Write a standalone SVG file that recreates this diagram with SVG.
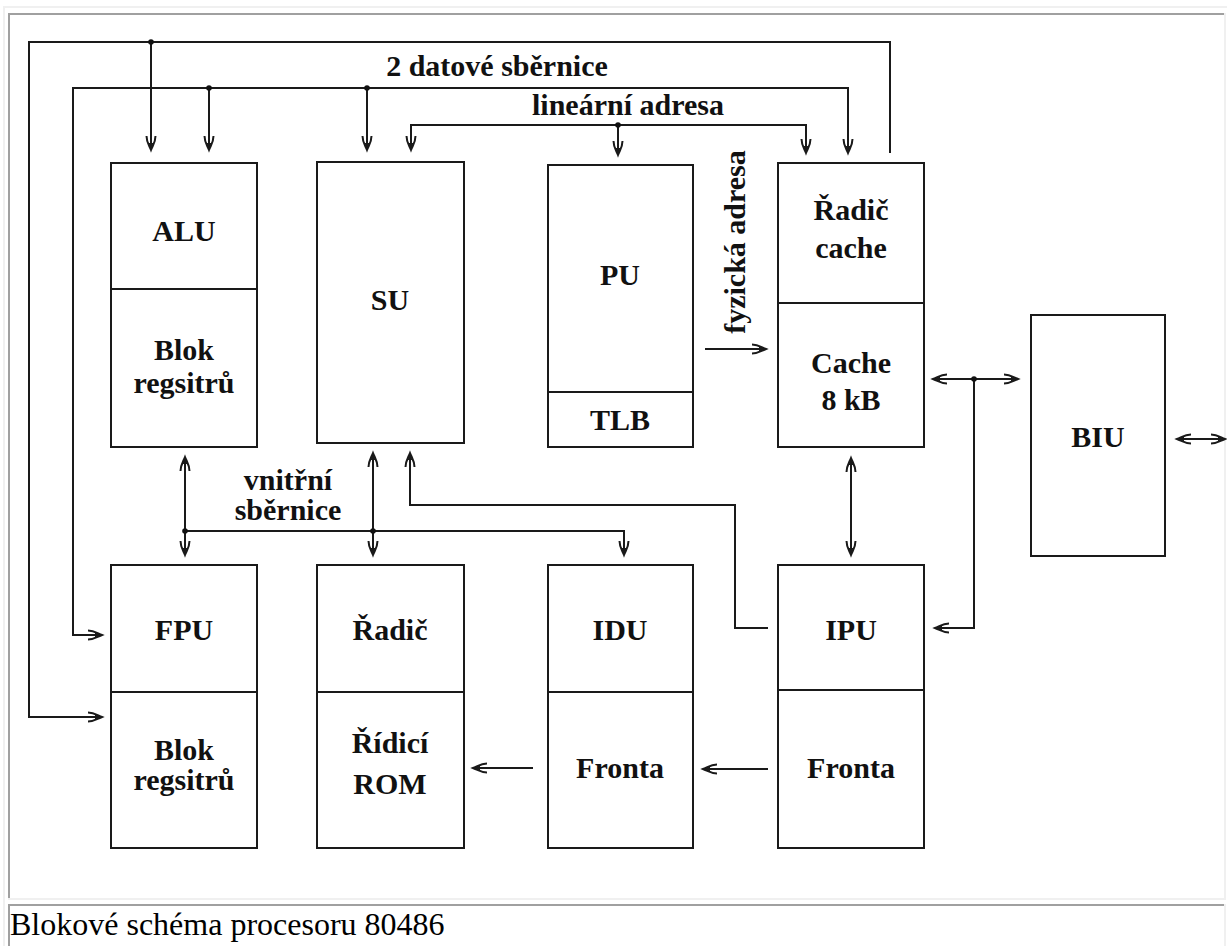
<svg xmlns="http://www.w3.org/2000/svg" width="1227" height="946" viewBox="0 0 1227 946">
<style>
.frame-dark{fill:#a0a0a0}
.frame-light{fill:#f0f0f0}
.box{fill:none;stroke:#1a1a1a;stroke-width:2}
.lbl{font-family:"Liberation Serif","Times New Roman",serif;font-weight:bold;font-size:30px;fill:#111;text-anchor:middle}
.wire{fill:none;stroke:#1a1a1a;stroke-width:2}
.arr{marker-end:url(#ah)}
.arr2{marker-start:url(#ahs);marker-end:url(#ah)}
.dot{fill:#111}
.cap{font-family:"Liberation Serif","Times New Roman",serif;font-size:32px;fill:#000}
</style>
<defs>
<marker id="ah" markerUnits="userSpaceOnUse" markerWidth="20" markerHeight="14" viewBox="-16 -7 18 14" refX="0" refY="0" orient="auto">
<path d="M-14,-4.5 C-8,-4.5 -5,-2 0,0 C-5,2 -8,4.5 -14,4.5" fill="none" stroke="#1a1a1a" stroke-width="2"/>
<path d="M-7,-2.5 L0,0 L-7,2.5 Z" fill="#1a1a1a"/>
</marker>
<marker id="ahs" markerUnits="userSpaceOnUse" markerWidth="20" markerHeight="14" viewBox="-16 -7 18 14" refX="0" refY="0" orient="auto-start-reverse">
<path d="M-14,-4.5 C-8,-4.5 -5,-2 0,0 C-5,2 -8,4.5 -14,4.5" fill="none" stroke="#1a1a1a" stroke-width="2"/>
<path d="M-7,-2.5 L0,0 L-7,2.5 Z" fill="#1a1a1a"/>
</marker>
</defs>
<rect width="1227" height="946" fill="#fff"/>
<g id="frame">
<rect class="frame-light" x="3" y="6" width="1224" height="2"/>
<rect class="frame-light" x="3" y="6" width="2" height="940"/>
<rect class="frame-dark" x="8" y="13" width="1218" height="2"/>
<rect class="frame-dark" x="8" y="13" width="2" height="887"/>
<rect class="frame-light" x="1224" y="13" width="2" height="887"/>
<rect class="frame-light" x="8" y="898" width="1218" height="2"/>
<rect class="frame-dark" x="8" y="904" width="1218" height="2"/>
<rect class="frame-dark" x="8" y="904" width="2" height="42"/>
<rect class="frame-light" x="1224" y="904" width="2" height="42"/>
</g>
<g id="connectors">
<path class="wire" d="M890,153 L890,42 L29,42 L29,717 L102,717" marker-end="url(#ah)"/>
<path class="wire arr" d="M151,42 L151,150"/>
<path class="wire" d="M848,153 L848,88 L73,88 L73,635 L102,635" marker-start="url(#ahs)" marker-end="url(#ah)"/>
<path class="wire arr" d="M209,88 L209,150"/>
<path class="wire arr" d="M367,88 L367,150"/>
<path class="wire arr2" d="M411,150 L411,125 L806,125 L806,153"/>
<path class="wire arr" d="M618,125 L618,155"/>
<path class="wire arr" d="M705,349 L766,349"/>
<path class="wire arr2" d="M933,379 L1018,379"/>
<path class="wire arr" d="M974,379 L974,628 L935,628"/>
<path class="wire arr2" d="M1177,439 L1225,439"/>
<path class="wire arr2" d="M851,458 L851,555"/>
<path class="wire arr2" d="M185,457 L185,555"/>
<path class="wire arr2" d="M373,453 L373,555"/>
<path class="wire arr" d="M185,531 L624,531 L624,555"/>
<path class="wire arr" d="M768,628 L735,628 L735,505 L410,505 L410,453"/>
<path class="wire arr" d="M533,768 L473,768"/>
<path class="wire arr" d="M768,769 L703,769"/>
<circle class="dot" cx="151" cy="42" r="2.8"/>
<circle class="dot" cx="209" cy="88" r="2.8"/>
<circle class="dot" cx="367" cy="88" r="2.8"/>
<circle class="dot" cx="618" cy="125" r="2.8"/>
<circle class="dot" cx="974" cy="379" r="2.8"/>
<circle class="dot" cx="185" cy="531" r="2.8"/>
<circle class="dot" cx="373" cy="531" r="2.8"/>
<text class="lbl" x="497" y="76">2 datové sběrnice</text>
<text class="lbl" x="628" y="115">lineární adresa</text>
<text class="lbl" transform="translate(745,242) rotate(-90)" x="0" y="0">fyzická adresa</text>
<text class="lbl" x="288" y="490">vnitřní</text>
<text class="lbl" x="288" y="520">sběrnice</text>
</g>
<g id="alu">
<rect class="box" x="111" y="163" width="146" height="284"/>
<line class="box" x1="111" y1="289" x2="257" y2="289"/>
<text class="lbl" x="184" y="241">ALU</text>
<text class="lbl" x="184" y="360">Blok</text>
<text class="lbl" x="184" y="393">regsitrů</text>
</g>
<g id="su">
<rect class="box" x="317" y="162" width="147" height="281"/>
<text class="lbl" x="390" y="310">SU</text>
</g>
<g id="pu">
<rect class="box" x="548" y="165" width="145" height="282"/>
<line class="box" x1="548" y1="392" x2="693" y2="392"/>
<text class="lbl" x="620" y="285">PU</text>
<text class="lbl" x="620" y="430">TLB</text>
</g>
<g id="cache">
<rect class="box" x="778" y="163" width="146" height="284"/>
<line class="box" x1="778" y1="303" x2="924" y2="303"/>
<text class="lbl" x="851" y="220">Řadič</text>
<text class="lbl" x="851" y="258">cache</text>
<text class="lbl" x="851" y="373">Cache</text>
<text class="lbl" x="851" y="410">8 kB</text>
</g>
<g id="biu">
<rect class="box" x="1031" y="315" width="134" height="241"/>
<text class="lbl" x="1098" y="447">BIU</text>
</g>
<g id="fpu">
<rect class="box" x="111" y="565" width="146" height="283"/>
<line class="box" x1="111" y1="692" x2="257" y2="692"/>
<text class="lbl" x="184" y="640">FPU</text>
<text class="lbl" x="184" y="760">Blok</text>
<text class="lbl" x="184" y="790">regsitrů</text>
</g>
<g id="radic">
<rect class="box" x="317" y="565" width="147" height="283"/>
<line class="box" x1="317" y1="692" x2="464" y2="692"/>
<text class="lbl" x="390" y="640">Řadič</text>
<text class="lbl" x="390" y="753">Řídicí</text>
<text class="lbl" x="390" y="794">ROM</text>
</g>
<g id="idu">
<rect class="box" x="548" y="565" width="145" height="283"/>
<line class="box" x1="548" y1="692" x2="693" y2="692"/>
<text class="lbl" x="620" y="640">IDU</text>
<text class="lbl" x="620" y="778">Fronta</text>
</g>
<g id="ipu">
<rect class="box" x="778" y="565" width="146" height="283"/>
<line class="box" x1="778" y1="690" x2="924" y2="690"/>
<text class="lbl" x="851" y="640">IPU</text>
<text class="lbl" x="851" y="778">Fronta</text>
</g>
<g id="caption">
<text class="cap" x="10" y="935">Blokové schéma procesoru 80486</text>
</g>
</svg>
